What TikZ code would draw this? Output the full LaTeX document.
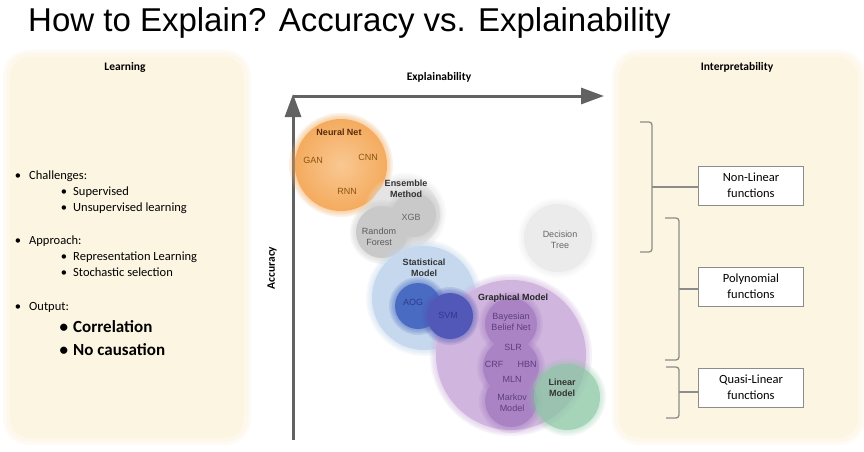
\documentclass[tikz,border=0pt]{standalone}
\usepackage{fontspec}
\setmainfont{Carlito}
\newfontfamily\arialf{Liberation Sans}
\usetikzlibrary{arrows.meta}
\definecolor{panelc}{HTML}{FCF5E2}
\definecolor{axisc}{HTML}{626262}
\definecolor{orangec}{HTML}{F4AB5E}
\definecolor{orangel}{HTML}{F9C892}
\definecolor{grayhalo}{HTML}{E4E4E4}
\definecolor{graydisc}{HTML}{C9C9C9}
\definecolor{dtc}{HTML}{EBEBEB}
\definecolor{bluel}{HTML}{C5D8EE}
\definecolor{aogc}{HTML}{4A6BC2}
\definecolor{svmc}{HTML}{5158B8}
\definecolor{purplel}{HTML}{D0B5DE}
\definecolor{purplem}{HTML}{A983C4}
\definecolor{greenc}{HTML}{8CC8A4}
\definecolor{brackc}{HTML}{8C8C8C}
\definecolor{nnlab}{HTML}{5A2A0C}
\definecolor{nnsub}{HTML}{8A5510}
\definecolor{glab}{HTML}{5E3E80}
\definecolor{blab}{HTML}{2B3C8A}
\newcommand\softdisc[5][1]{%
  \foreach \k in {4,3,2,1}{\fill[#2, opacity=0.15*#1] (#3,#4) circle (#5+\k*1.5);}
  \fill[#2, opacity=#1] (#3,#4) circle (#5);}
\begin{document}
\begin{tikzpicture}[x=1pt,y=-1pt,
  lab/.style={font=\arialf\fontsize{9}{10.5}\selectfont, align=center, inner sep=0},
  blabel/.style={font=\arialf\bfseries\fontsize{9}{10.5}\selectfont, align=center, inner sep=0},
  head/.style={font=\bfseries\fontsize{11.5}{13}\selectfont, inner sep=0},
  itm/.style={font=\fontsize{12.5}{15}\selectfont, anchor=base west, inner sep=0},
  bigitm/.style={font=\bfseries\fontsize{17}{20}\selectfont, anchor=base west, inner sep=0},
  fbox/.style={draw=brackc, fill=white, line width=0.9pt, minimum width=105pt, minimum height=39pt, align=center, font=\fontsize{12.5}{16}\selectfont, inner sep=0},
  brack/.style={draw=brackc, line width=1.3pt, rounded corners=3pt},
  axisarrow/.style={draw=axisc, line width=3pt, -{Triangle[length=23pt,width=16pt]}}
]
\useasboundingbox (0,0) rectangle (864,452);
\fill[white] (0,0) rectangle (864,452);

% panels
\foreach \xa/\xb in {8/246, 617/860}{
  \fill[panelc!35!white, rounded corners=26] (\xa-5,50) rectangle (\xb+5,445);
  \fill[panelc!70!white, rounded corners=23] (\xa-2,53) rectangle (\xb+2,442);
  \fill[panelc, rounded corners=20] (\xa+2,57) rectangle (\xb-2,438);
}

% title
\node[anchor=base west, inner sep=0, font=\arialf\fontsize{33}{36}\selectfont] (title) at (28,32) {How to Explain? Accuracy vs. Explainability};

% left panel
\node[head] (learning) at (125,67) {Learning};
\node[itm] (l1) at (29,179) {\llap{\textbullet\hspace{8pt}}Challenges:};
\node[itm] (l2) at (73,195) {\llap{\textbullet\hspace{6pt}}Supervised};
\node[itm] (l3) at (73,211) {\llap{\textbullet\hspace{6pt}}Unsupervised learning};
\node[itm] (l4) at (29,244) {\llap{\textbullet\hspace{8pt}}Approach:};
\node[itm] (l5) at (73,260) {\llap{\textbullet\hspace{6pt}}Representation Learning};
\node[itm] (l6) at (73,276) {\llap{\textbullet\hspace{6pt}}Stochastic selection};
\node[itm] (l7) at (29,310) {\llap{\textbullet\hspace{8pt}}Output:};
\node[bigitm] (l8) at (73,332) {\llap{\textbullet\hspace{5pt}}Correlation};
\node[bigitm] (l9) at (73,355) {\llap{\textbullet\hspace{5pt}}No causation};

% right panel
\node[head] (interp) at (737,67) {Interpretability};
\node[fbox] (b1) at (751,185.5) {Non-Linear\\functions};
\node[fbox] (b2) at (751,286.5) {Polynomial\\functions};
\node[fbox] (b3) at (751,387.5) {Quasi-Linear\\functions};
\coordinate (k1) at (652,187);
\coordinate (k2) at (679,289);
\coordinate (k3) at (679,392);
\draw[brack] (640,122) -- (652,122) -- (652,252) -- (640,252);
\draw[brack] (665,218) -- (679,218) -- (679,360) -- (665,360);
\draw[brack] (666,367) -- (679,367) -- (679,418) -- (666,418);
\draw[draw=brackc, line width=1.3pt] (k1) -- (k1 -| b1.west);
\draw[draw=brackc, line width=1.3pt] (k2) -- (k2 -| b2.west);
\draw[draw=brackc, line width=1.3pt] (k3) -- (k3 -| b3.west);

% axes
\coordinate (origin) at (293,96);
\coordinate (xend) at (604,96);
\coordinate (ybot) at (293,440);
\coordinate (ytop) at (293,94);
\draw[axisarrow] (origin) -- (xend);
\draw[axisarrow] (ybot) -- (ytop);
\node[head] (expl) at (439,77) {Explainability};
\node[head, rotate=90] (acc) at (272,268) {Accuracy};

% Neural net
\foreach \k in {4,3,2,1}{\fill[orangec, opacity=0.15] (341,165) circle (46+\k*1.5);}
\shade[inner color=orangel, outer color=orangec] (341,165) circle (46);
% Ensemble
\softdisc{grayhalo}{405}{214}{35}
\softdisc{graydisc}{414}{215}{22}
\softdisc{graydisc}{382}{232}{26}
% Decision tree
\softdisc{dtc}{558}{238}{34}
% Statistical model
\softdisc{bluel}{424}{298}{52}
% Graphical model
\softdisc{purplel}{511}{355}{75}
% AOG / SVM
\softdisc{aogc}{418}{306}{23}
\softdisc{svmc}{450}{316}{23}
% inner graphical
\softdisc{purplem}{511}{324}{26}
\softdisc{purplem}{511}{367}{28}
\softdisc{purplem}{511}{401}{26}
% Linear model
\softdisc[0.65]{greenc}{567}{397}{33}

% labels
\node[blabel, text=nnlab] (nn) at (339,132) {Neural Net};
\node[lab, text=nnsub] (gan) at (313,160) {GAN};
\node[lab, text=nnsub] (cnn) at (368,157) {CNN};
\node[lab, text=nnsub] (rnn) at (347,191) {RNN};
\node[blabel, text=black!80] (ens) at (406,189) {Ensemble\\Method};
\node[lab, text=black!60] (xgb) at (411,217) {XGB};
\node[lab, text=black!65] (rf) at (379,237) {Random\\Forest};
\node[lab, text=black!60] (dt) at (560,240) {Decision\\Tree};
\node[blabel, text=black!80] (stat) at (424,268) {Statistical\\Model};
\node[lab, text=blab] (aog) at (413,302) {AOG};
\node[lab, text=blab] (svm) at (448,315) {SVM};
\node[blabel, text=black!85] (gm) at (513,298) {Graphical Model};
\node[lab, text=glab] (bbn) at (511,322) {Bayesian\\Belief Net};
\node[lab, text=glab] (slr) at (513,347) {SLR};
\node[lab, text=glab] (crf) at (494,364) {CRF};
\node[lab, text=glab] (hbn) at (527,364) {HBN};
\node[lab, text=glab] (mln) at (512,379) {MLN};
\node[lab, text=glab] (mm) at (512,403) {Markov\\Model};
\node[blabel, text=black!80] (lm) at (562,388) {Linear\\Model};
\end{tikzpicture}
\end{document}
